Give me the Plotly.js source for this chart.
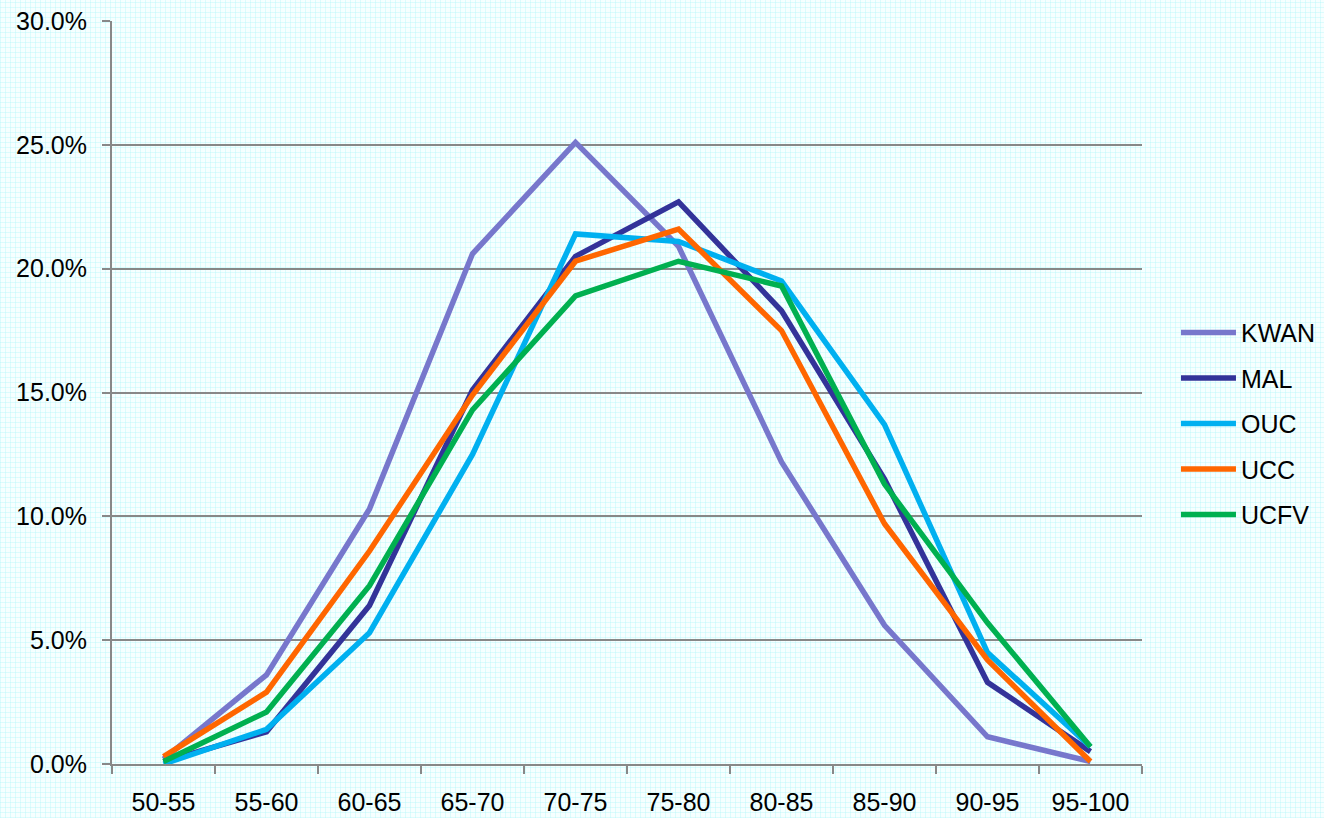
<!DOCTYPE html>
<html>
<head>
<meta charset="utf-8">
<script src="https://cdn.plot.ly/plotly-3.0.1.min.js"></script>
<style>
html, body { margin:0; padding:0; width:1324px; height:818px; overflow:hidden; }
body {
  background-color:#f6ffff;
  background-image:
    repeating-linear-gradient(0deg, rgba(170,245,248,0.35) 0px, rgba(170,245,248,0.35) 1px, transparent 1px, transparent 5px),
    repeating-linear-gradient(90deg, rgba(170,245,248,0.35) 0px, rgba(170,245,248,0.35) 1px, transparent 1px, transparent 5px);
}
#chart { width:1324px; height:818px; }
</style>
</head>
<body>
<div id="chart"></div>
<script>
const categories = ["50-55","55-60","60-65","65-70","70-75","75-80","80-85","85-90","90-95","95-100"];
const KWAN = [0.002, 0.036, 0.103, 0.206, 0.251, 0.209, 0.122, 0.056, 0.011, 0.001];
const MAL  = [0.001, 0.013, 0.064, 0.151, 0.205, 0.227, 0.183, 0.115, 0.033, 0.005];
const OUC  = [0.000, 0.014, 0.053, 0.125, 0.214, 0.211, 0.195, 0.137, 0.045, 0.007];
const UCC  = [0.003, 0.029, 0.086, 0.149, 0.203, 0.216, 0.175, 0.097, 0.042, 0.001];
const UCFV = [0.001, 0.021, 0.072, 0.143, 0.189, 0.203, 0.193, 0.113, 0.057, 0.007];
const yTicks = [0, 0.05, 0.10, 0.15, 0.20, 0.25, 0.30];

const seriesNames = ["KWAN","MAL","OUC","UCC","UCFV"];
const seriesData = [KWAN, MAL, OUC, UCC, UCFV];
const colors = ["#7777cc","#333399","#00b0f0","#ff6600","#00b050"];

const traces = seriesNames.map((n, i) => ({
  type: "scatter", mode: "lines", name: n,
  x: categories, y: seriesData[i],
  legendgroup: n,
  line: { color: colors[i], width: 5.5 },
  hoverinfo: "skip"
}));

const fontFam = "Liberation Sans, Arial, sans-serif";
const layout = {
  width: 1324, height: 818,
  margin: { l: 112, r: 182, t: 21, b: 54, autoexpand: false },
  paper_bgcolor: "rgba(0,0,0,0)",
  plot_bgcolor: "rgba(0,0,0,0)",
  font: { family: fontFam, size: 25, color: "#000" },
  showlegend: true,
  legend: {
    x: 1.033, xanchor: "left", y: 0.458, yanchor: "middle",
    bgcolor: "rgba(0,0,0,0)", font: { size: 25, family: fontFam },
    tracegroupgap: 10, traceorder: "grouped", itemwidth: 55
  },
  xaxis: {
    type: "category", range: [-0.5, 9.5],
    showgrid: false, zeroline: false,
    showline: true, linecolor: "#888", linewidth: 2,
    ticks: "outside", tickson: "boundaries", ticklen: 8, tickwidth: 2, tickcolor: "#888",
    tickfont: { size: 25, family: fontFam },
    ticklabelstandoff: 15
  },
  yaxis: {
    range: [0, 0.30], tickvals: yTicks, tickformat: ".1%",
    showgrid: true, gridcolor: "#888", gridwidth: 2,
    zeroline: false, showline: true, linecolor: "#888", linewidth: 2,
    ticks: "outside", ticklen: 8, tickwidth: 2, tickcolor: "#888",
    tickfont: { size: 25, family: fontFam },
    ticklabelstandoff: 10
  }
};

Plotly.newPlot("chart", traces, layout, { displayModeBar: false, staticPlot: true });
</script>
</body>
</html>
